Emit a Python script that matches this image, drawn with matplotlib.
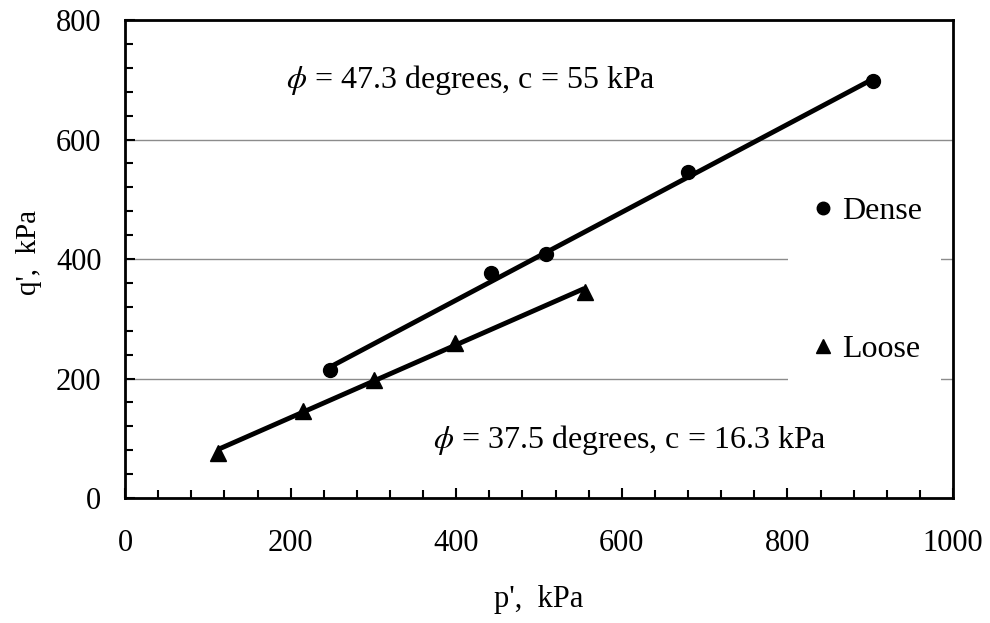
import numpy as np
import matplotlib
matplotlib.use("Agg")
import matplotlib.pyplot as plt
from matplotlib.ticker import MultipleLocator

plt.rcParams['font.family'] = ['Liberation Serif', 'DejaVu Serif']
plt.rcParams['mathtext.fontset'] = 'stix'

# p', q' (kPa)
dense_p = [248, 442, 508, 680, 904]
dense_q = [215, 376, 408, 545, 698]
loose_p = [112, 215, 301, 398, 555]
loose_q = [76, 145, 197, 259, 345]

# failure envelopes given on the chart
dense_phi, dense_c = 47.3, 55.0
loose_phi, loose_c = 37.5, 16.3


def envelope(p, phi, c):
    "Linea K_f en el plano p'-q': q' = c cos(phi) + p' sin(phi)"
    p = np.asarray(p, dtype=float)
    r = np.radians(phi)
    return c * np.cos(r) + p * np.sin(r)


fig = plt.figure(figsize=(9.9, 6.23), dpi=100)
ax = fig.add_axes([0.1263, 0.2006, 0.8363, 0.7673])

# envelopes, drawn over the span of each data set
pd_ = np.array([min(dense_p), max(dense_p)])
pl_ = np.array([min(loose_p), max(loose_p)])
ax.plot(pd_, envelope(pd_, dense_phi, dense_c), color='black', lw=3.5,
        solid_capstyle='butt', zorder=3)
ax.plot(pl_, envelope(pl_, loose_phi, loose_c), color='black', lw=3.5,
        solid_capstyle='butt', zorder=3)

ax.plot(dense_p, dense_q, 'o', color='black', ms=10, ls='none',
        label='Dense', zorder=4)
ax.plot(loose_p, loose_q, '^', color='black', ms=11, ls='none',
        label='Loose', zorder=4)

ax.set_xlim(0, 1000)
ax.set_ylim(0, 800)
ax.xaxis.set_major_locator(MultipleLocator(200))
ax.xaxis.set_minor_locator(MultipleLocator(40))
ax.yaxis.set_major_locator(MultipleLocator(200))
ax.yaxis.set_minor_locator(MultipleLocator(40))

ax.tick_params(which='both', direction='in', width=1.5, top=False, right=False,
               labelsize=22)
ax.tick_params(which='major', length=7.5)
ax.tick_params(which='minor', length=5.5)
ax.tick_params(axis='x', which='major', pad=22)
ax.tick_params(axis='y', which='major', pad=17)

for s in ax.spines.values():
    s.set_linewidth(2)

ax.yaxis.grid(True, which='major', color='#8c8c8c', lw=1.0, zorder=0)
ax.set_axisbelow(True)

ax.set_xlabel("p',  kPa", fontsize=22, labelpad=20)
ax.set_ylabel("q',  kPa", fontsize=21, labelpad=12)
ax.yaxis.set_label_coords(-0.1, 0.513)

ax.text(194, 686, r"$\phi$ = 47.3 degrees, c = 55 kPa", fontsize=23,
        ha='left', va='baseline')
ax.text(372, 84, r"$\phi$ = 37.5 degrees, c = 16.3 kPa", fontsize=23,
        ha='left', va='baseline')

leg = ax.legend(loc='upper left', bbox_to_anchor=(0.8007, 0.672),
                borderaxespad=0, fontsize=23, frameon=True, fancybox=False,
                framealpha=1, facecolor='white', edgecolor='none',
                numpoints=1, handlelength=0.94, handletextpad=0.12,
                borderpad=0.62, labelspacing=3.4, markerscale=0.9)

fig.savefig('out.png', dpi=100)
